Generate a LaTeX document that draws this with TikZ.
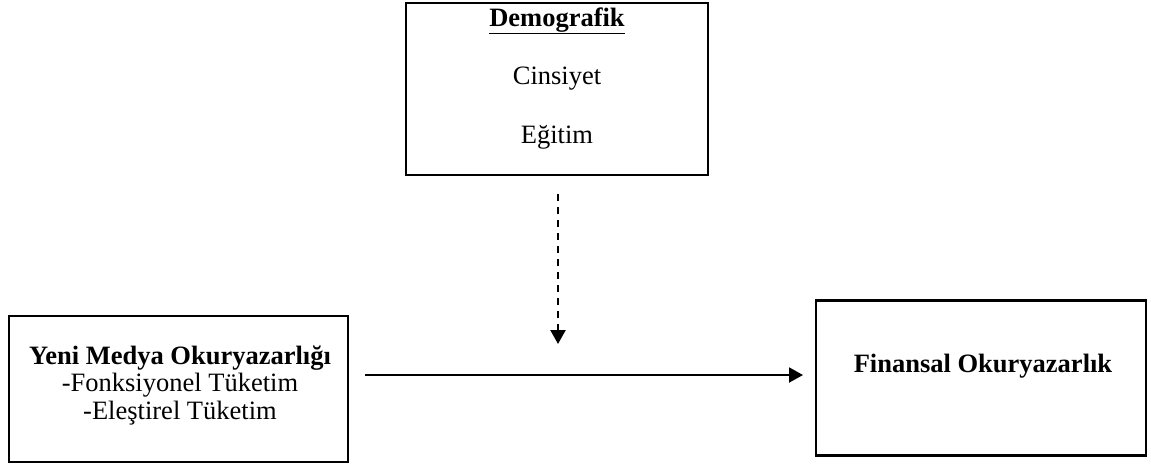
\documentclass[tikz,border=0pt]{standalone}
\usepackage{fontspec}
\setmainfont{Liberation Serif}
\usetikzlibrary{arrows.meta}
\begin{document}
\begin{tikzpicture}[x=1pt,y=-1pt,
  boxnode/.style={draw=black,line width=2.6pt,inner sep=0pt},
  txt/.style={inner sep=0pt,align=center,font=\fontsize{26.5}{27.5}\selectfont},
  conn/.style={line width=2pt,-{Triangle[length=14pt,width=15pt]}}]
\useasboundingbox (0,0) rectangle (1151,464);
% boxes
\node[boxnode,minimum width=302pt,minimum height=172pt] (demo) at (557,89) {};
\node[boxnode,minimum width=339pt,minimum height=146pt] (ymo) at (178.5,389) {};
\node[boxnode,minimum width=330pt,minimum height=155pt] (fin) at (981,378) {};
% texts
\node[txt] (demot) at (557,21) {\underline{\textbf{Demografik}}};
\node[txt] (cins) at (557,79) {Cinsiyet};
\node[txt] (egit) at (557,137) {Eğitim};
\node[txt] (ymot) at (180,385) {\textbf{Yeni Medya Okuryazarlığı}\\-Fonksiyonel Tüketim\\-Eleştirel Tüketim};
\node[txt] (fint) at (983,366) {\textbf{Finansal Okuryazarlık}};
% connectors
\coordinate (dtop) at (558,194);
\coordinate (dend) at (558,344);
\coordinate (hstart) at (365,375);
\coordinate (hend) at (803,375);
\draw[conn,dash pattern=on 7pt off 6pt,line width=2.4pt] (dtop) -- (dend);
\draw[conn] (hstart) -- (hend);
\end{tikzpicture}
\end{document}
